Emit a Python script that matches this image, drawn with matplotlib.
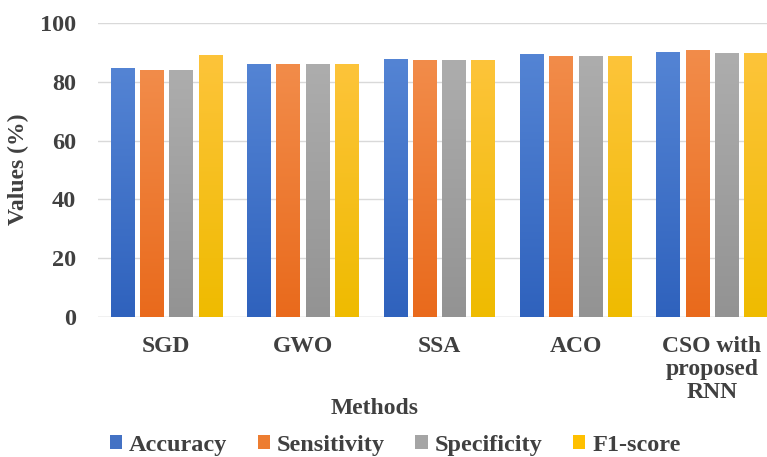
import numpy as np
import matplotlib
matplotlib.use("Agg")
import matplotlib.pyplot as plt
from matplotlib.colors import LinearSegmentedColormap

methods = ["SGD", "GWO", "SSA", "ACO", "CSO with\nproposed\nRNN"]
metrics = ["Accuracy", "Sensitivity", "Specificity", "F1-score"]
accuracy = [84.6, 86.0, 87.8, 89.4, 90.3]
sensitivity = [84.1, 86.0, 87.4, 88.8, 90.8]
specificity = [84.1, 86.0, 87.4, 88.8, 89.8]
f1_score = [89.3, 86.0, 87.4, 88.8, 89.8]
colors = ["#4472C4", "#ED7D31", "#A5A5A5", "#FFC000"]
# light top -> darker bottom, like the Excel gradient fill
top_colors = ["#5484d4", "#f28c4a", "#adadad", "#fdc43a"]
bottom_colors = ["#2f62bd", "#e96a1c", "#939393", "#efbb00"]

plt.rcParams['font.family'] = ['Liberation Serif', 'DejaVu Serif']
plt.rcParams['font.weight'] = 'bold'
text_color = "#404040"

fig = plt.figure(figsize=(7.67, 4.57), dpi=100)
ax = fig.add_axes([0.128, 0.307, 0.889, 0.642])

x = np.arange(len(methods))
series = [accuracy, sensitivity, specificity, f1_score]
slot = 0.215
grad = np.linspace(1, 0, 256).reshape(-1, 1)
for i, (vals, name, col) in enumerate(zip(series, metrics, colors)):
    bars = ax.bar(x + (i - 1.5) * slot, vals, width=0.17, color=col, label=name, zorder=3)
    cmap = LinearSegmentedColormap.from_list("g%d" % i, [bottom_colors[i], top_colors[i]])
    for b in bars:
        bx, by = b.get_x(), b.get_y()
        im = ax.imshow(grad, cmap=cmap, aspect='auto', zorder=4,
                       extent=[bx, bx + b.get_width(), by, by + b.get_height()])
        im.set_clip_path(b)

ax.set_xlim(-0.5, len(methods) - 0.5)
ax.set_ylim(0, 100)
ax.set_yticks(range(0, 101, 20))
ax.yaxis.grid(True, color="#d9d9d9", linewidth=1, zorder=0)
for s in ax.spines.values():
    s.set_visible(False)
ax.axhline(0, color="#d9d9d9", linewidth=1, zorder=1)
ax.tick_params(axis='both', length=0, labelcolor=text_color)
ax.tick_params(axis='y', pad=16, labelsize=17.5)
ax.set_xticks(x)
ax.set_xticklabels(methods, fontsize=17, fontweight='bold', linespacing=1.12, va='top')
ax.tick_params(axis='x', pad=14)

fig.text(0.024, 0.63, "Values (%)", rotation=90, ha='center', va='center',
         fontsize=17, fontweight='bold', color=text_color)
fig.text(0.489, 0.107, "Methods", ha='center', va='center',
         fontsize=17, fontweight='bold', color=text_color)

fig.legend(loc='lower left', bbox_to_anchor=(0.127, -0.024), ncol=4, frameon=False,
           fontsize=17.5, handlelength=0.5, handleheight=0.5, handletextpad=0.3,
           columnspacing=1.25, borderpad=0, labelcolor=text_color)

fig.savefig("out.png", dpi=100)
